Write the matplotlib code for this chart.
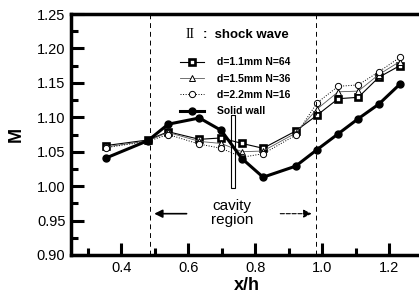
import matplotlib
matplotlib.use('Agg')
import matplotlib.pyplot as plt
from matplotlib.patches import Rectangle
from matplotlib.ticker import MultipleLocator

plt.rcParams['font.family'] = ['Liberation Sans', 'DejaVu Sans']

# data
xh = [0.355, 0.479, 0.540, 0.633, 0.698, 0.760, 0.823, 0.920, 0.984, 1.047, 1.107, 1.168, 1.231]
m_d11 = [1.059, 1.067, 1.079, 1.068, 1.070, 1.062, 1.055, 1.080, 1.103, 1.127, 1.129, 1.158, 1.175]
m_d15 = [1.057, 1.066, 1.078, 1.065, 1.062, 1.050, 1.051, 1.077, 1.112, 1.137, 1.138, 1.162, 1.181]
m_d22 = [1.056, 1.065, 1.075, 1.061, 1.055, 1.042, 1.047, 1.074, 1.121, 1.145, 1.147, 1.166, 1.187]
m_wall = [1.041, 1.066, 1.090, 1.099, 1.081, 1.040, 1.013, 1.029, 1.053, 1.076, 1.098, 1.119, 1.148]

labels = ['d=1.1mm N=64', 'd=1.5mm N=36', 'd=2.2mm N=16', 'Solid wall']

cavity_start, cavity_end = 0.485, 0.98
shock_x, shock_lo, shock_hi = 0.732, 0.997, 1.103

fig = plt.figure(figsize=(4.19, 3.04), dpi=100)
ax = fig.add_axes([0.1695, 0.1612, 0.84, 0.7927])

ax.plot(xh, m_d11, color='k', lw=0.8, marker='s', ms=4.8, mfc='white', mec='k', mew=1.9, label=labels[0])
ax.plot(xh, m_d15, color='0.35', lw=0.6, marker='^', ms=4.5, mfc='white', mec='k', mew=0.7, label=labels[1])
ax.plot(xh, m_d22, color='k', lw=0.7, ls=':', marker='o', ms=4.5, mfc='white', mec='k', mew=0.7, label=labels[2])
ax.plot(xh, m_wall, color='k', lw=2.2, marker='o', ms=5, mfc='k', mec='k', label=labels[3])

# cavity limits
ax.axvline(cavity_start, color='k', lw=0.7, ls=(0, (5, 4)))
ax.axvline(cavity_end, color='k', lw=0.7, ls=(0, (5, 4)))

# shock wave position
ax.add_patch(Rectangle((shock_x - 0.006, shock_lo), 0.012, shock_hi - shock_lo,
                       fill=False, ec='k', lw=0.8, zorder=5))

ax.annotate('', xy=(cavity_start + 0.005, 0.96), xytext=(0.603, 0.96),
            arrowprops=dict(arrowstyle='-|>', color='k', lw=1.2, mutation_scale=12))
ax.annotate('', xy=(cavity_end - 0.004, 0.96), xytext=(0.866, 0.96),
            arrowprops=dict(arrowstyle='-|>', color='k', lw=0.8, ls='--', mutation_scale=12))
ax.text(0.731, 0.961, 'cavity\nregion', ha='center', va='center', fontsize=11, linespacing=1.0)

# legend
ax.text(0.338, 0.913, 'II', transform=ax.transAxes, ha='center', va='center',
        family='Liberation Serif', fontsize=10)
ax.text(0.375, 0.913, ':  shock wave', transform=ax.transAxes, ha='left', va='center',
        fontsize=9.5, fontweight='bold')
leg = ax.legend(loc='upper left', bbox_to_anchor=(0.29, 0.85), frameon=False,
                handlelength=2.3, fontsize=7.5, labelspacing=0.6, borderpad=0.2, handletextpad=1.2)
for t in leg.get_texts():
    t.set_fontweight('bold')

ax.set_xlim(0.25, 1.3)
ax.set_ylim(0.90, 1.25)
ax.xaxis.set_major_locator(MultipleLocator(0.2))
ax.xaxis.set_minor_locator(MultipleLocator(0.1))
ax.yaxis.set_major_locator(MultipleLocator(0.05))
ax.yaxis.set_minor_locator(MultipleLocator(0.025))
ax.xaxis.set_major_formatter(plt.FormatStrFormatter('%.1f'))
ax.yaxis.set_major_formatter(plt.FormatStrFormatter('%.2f'))
ax.tick_params(which='major', direction='in', length=9, width=2.2, labelsize=10.5, pad=4)
ax.tick_params(which='minor', direction='in', length=5, width=2.2)
ax.tick_params(top=False, right=False, which='both')
for s in ['left', 'bottom', 'top']:
    ax.spines[s].set_linewidth(2.5)
ax.spines['right'].set_visible(False)

ax.set_xlabel('x/h', fontsize=13, fontweight='bold', labelpad=2)
ax.set_ylabel('M', fontsize=13, fontweight='bold', labelpad=9)

fig.savefig('out.png', dpi=100)
